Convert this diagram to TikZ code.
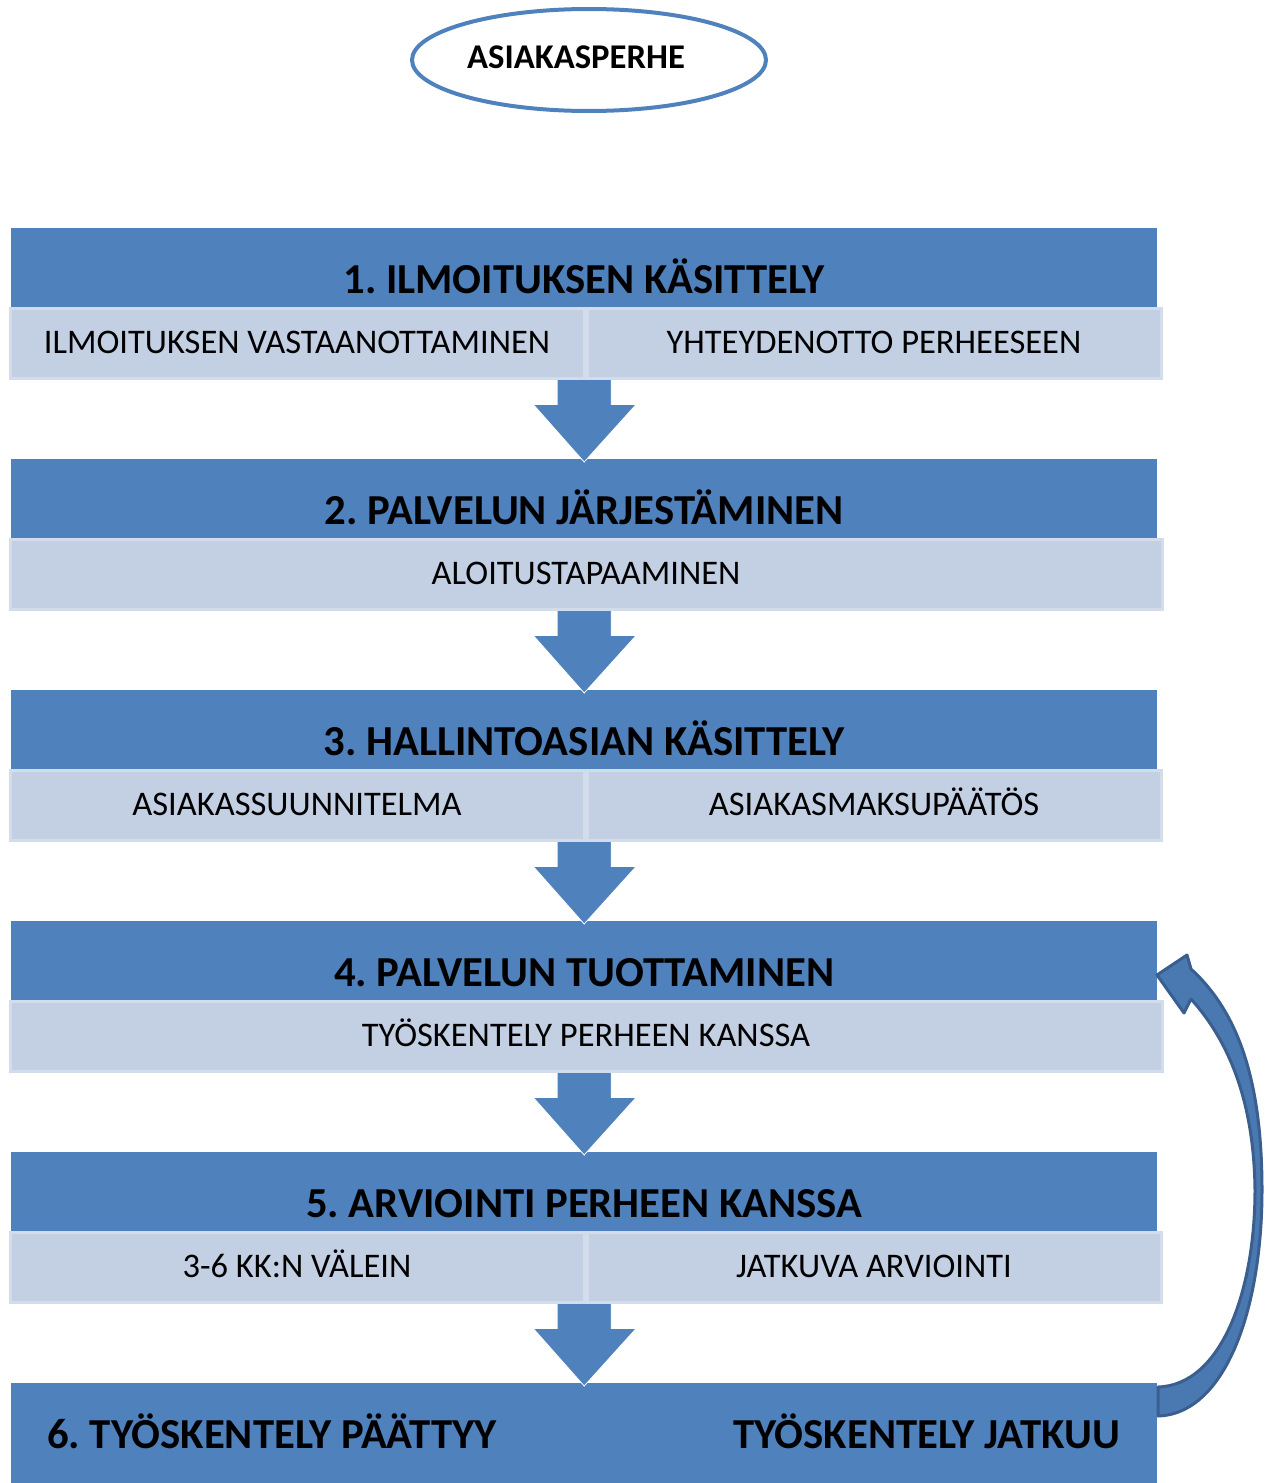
\documentclass[tikz,border=0pt]{standalone}
\usepackage{fontspec}
\setmainfont{Carlito}
\usetikzlibrary{calc,shapes.geometric}
\frenchspacing

\definecolor{hdrblue}{HTML}{4F81BD}
\definecolor{bandfill}{HTML}{C3CFE3}
\definecolor{bandedge}{HTML}{D3DCEB}
\definecolor{loopfill}{HTML}{4A79B2}
\definecolor{loopedge}{HTML}{3A5F8E}

\tikzset{
  hdr/.style={fill=hdrblue, draw=none, anchor=north west, inner sep=0pt,
    minimum width=1146pt, minimum height=150pt},
  hdrtext/.style={font=\fontsize{42.7}{48}\selectfont\bfseries, text=black,
    inner sep=0pt, text height=27.5pt, text depth=0pt},
  cell/.style={fill=bandfill, draw=bandedge, line width=3pt, anchor=north west,
    inner sep=0pt, minimum height=70pt,
    font=\fontsize{34.5}{40}\selectfont, text=black, text height=21pt, text depth=0pt},
  halfcell/.style={cell, minimum width=574pt},
  fullcell/.style={cell, minimum width=1152pt},
  flowarrow/.style={fill=hdrblue, draw=white, line width=0.8pt},
  ring/.style={ellipse, draw=hdrblue, line width=4pt, fill=white,
    minimum width=354pt, minimum height=102pt, inner sep=0pt},
}

% block arrow from the bottom of one step to the top of the next
\newcommand\stepdown[2]{%
  \path[flowarrow] let \p1=(#1.south), \p2=(#2.north) in
    (\x1-27pt,\y1) -- (\x1+27pt,\y1) -- (\x1+27pt,\y1-26pt) -- (\x1+52pt,\y1-26pt)
    -- (\x1,\y2-3pt) -- (\x1-51pt,\y1-26pt) -- (\x1-27pt,\y1-26pt) -- cycle;}

\begin{document}
\begin{tikzpicture}[x=1pt, y=-1pt]
\useasboundingbox (0,0) rectangle (1264,1483);

% client family
\node[ring] (fam) at (589,60) {};
\node[font=\fontsize{34.7}{40}\selectfont\bfseries, inner sep=0pt,
  text height=22pt, text depth=0pt] (famtext) at (576,57) {ASIAKASPERHE};

% step headers (the lower part lies under the light band)
\node[hdr] (h1) at (11,228)  {};
\node[hdr] (h2) at (11,459)  {};
\node[hdr] (h3) at (11,690)  {};
\node[hdr] (h4) at (11,921)  {};
\node[hdr] (h5) at (11,1152) {};
\node[hdr, minimum height=100pt] (h6) at (11,1383) {};

% arrows between steps
\stepdown{h1}{h2}
\stepdown{h2}{h3}
\stepdown{h3}{h4}
\stepdown{h4}{h5}
\stepdown{h5}{h6}

% step titles
\node[hdrtext] (t1) at ([yshift=-52pt]h1.north) {1. ILMOITUKSEN KÄSITTELY};
\node[hdrtext] (t2) at ([yshift=-52pt]h2.north) {2. PALVELUN JÄRJESTÄMINEN};
\node[hdrtext] (t3) at ([yshift=-52pt]h3.north) {3. HALLINTOASIAN KÄSITTELY};
\node[hdrtext] (t4) at ([yshift=-52pt]h4.north) {4. PALVELUN TUOTTAMINEN};
\node[hdrtext] (t5) at ([yshift=-52pt]h5.north) {5. ARVIOINTI PERHEEN KANSSA};
\node[hdrtext, anchor=west] (t6a) at (47,1435) {6. TYÖSKENTELY PÄÄTTYY};
\node[hdrtext, anchor=east] (t6b) at (1120,1435) {TYÖSKENTELY JATKUU};

% light bands with the sub-tasks
\node[halfcell] (c1a) at (8.5,306.5)  {ILMOITUKSEN VASTAANOTTAMINEN};
\node[halfcell] (c1b) at (585.5,306.5) {YHTEYDENOTTO PERHEESEEN};
\node[fullcell] (c2)  at (8.5,537.5)  {ALOITUSTAPAAMINEN};
\node[halfcell] (c3a) at (8.5,768.5)  {ASIAKASSUUNNITELMA};
\node[halfcell] (c3b) at (585.5,768.5) {ASIAKASMAKSUPÄÄTÖS};
\node[fullcell] (c4)  at (8.5,999.5)  {TYÖSKENTELY PERHEEN KANSSA};
\node[halfcell] (c5a) at (8.5,1230.5) {3-6 KK:N VÄLEIN};
\node[halfcell] (c5b) at (585.5,1230.5) {JATKUVA ARVIOINTI};

% curved return arrow: work continues -> back to step 4
\path[fill=loopfill, draw=loopedge, line width=3pt, line join=round]
  (1158,1416) .. controls (1225,1414) and (1262,1310) .. (1262,1190)
  .. controls (1262,1080) and (1238,1012) .. (1191,969)
  -- (1187,955) -- (1157,975) -- (1184,1013) -- (1191,999)
  .. controls (1228,1040) and (1254,1100) .. (1255,1190)
  .. controls (1255,1290) and (1222,1385) .. (1158,1387) -- cycle;
\end{tikzpicture}
\end{document}
